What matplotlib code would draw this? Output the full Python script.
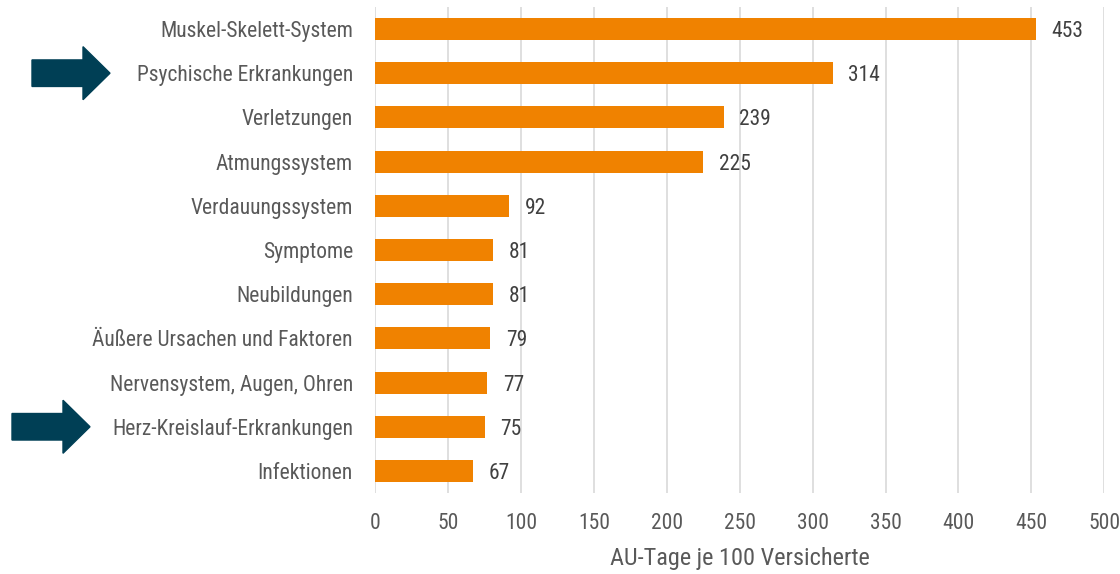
import numpy as np
import matplotlib
matplotlib.use("Agg")
import matplotlib.pyplot as plt
from matplotlib import transforms
from matplotlib.patches import FancyArrow

plt.rcParams['font.family'] = ['Roboto Condensed', 'Liberation Sans', 'DejaVu Sans']

# data, top to bottom
categories = ['Muskel-Skelett-System', 'Psychische Erkrankungen', 'Verletzungen',
              'Atmungssystem', 'Verdauungssystem', 'Symptome', 'Neubildungen',
              'Äußere Ursachen und Faktoren', 'Nervensystem, Augen, Ohren',
              'Herz-Kreislauf-Erkrankungen', 'Infektionen']
values = [453, 314, 239, 225, 92, 81, 81, 79, 77, 75, 67]
highlighted = ['Psychische Erkrankungen', 'Herz-Kreislauf-Erkrankungen']
xticks = [0, 50, 100, 150, 200, 250, 300, 350, 400, 450, 500]

ORANGE = '#F08200'
ARROW = '#003F55'
GREY = '#595959'
FS = 15.5

fig = plt.figure(figsize=(11.2, 5.74), dpi=100)
ax = fig.add_axes([0.335, 0.141, 0.651, 0.847])

y = np.arange(len(categories))
ax.barh(y, values, height=0.5, color=ORANGE, zorder=3)
ax.set_ylim(len(categories) - 0.5, -0.5)
ax.set_xlim(0, 500)
ax.set_yticks(y)
ax.set_yticklabels(categories, fontsize=FS, color=GREY, va='center_baseline')
ax.set_xticks(xticks)
ax.set_xticklabels([str(t) for t in xticks], fontsize=FS, color=GREY)
ax.tick_params(axis='y', length=0, pad=16)
ax.tick_params(axis='x', length=0, pad=14)
ax.set_xlabel('AU-Tage je 100 Versicherte', fontsize=17.5, color=GREY, labelpad=10)
ax.grid(axis='x', color='#D9D9D9', linewidth=1.2, zorder=0)
for s in ax.spines.values():
    s.set_visible(False)

for yi, v in zip(y, values):
    ax.annotate(str(v), (v, yi), xytext=(11, 0), textcoords='offset points',
                va='center_baseline', ha='left', fontsize=FS, color='#404040')

# arrows pointing at highlighted categories (x in figure fraction, y in data)
trans = transforms.blended_transform_factory(fig.transFigure, ax.transData)
arrow_x = {'Psychische Erkrankungen': 32, 'Herz-Kreislauf-Erkrankungen': 12}
for name in highlighted:
    yi = categories.index(name)
    x0 = arrow_x[name] / 1120
    ar = FancyArrow(x0, yi, 78 / 1120, 0, width=0.6, head_width=1.2,
                    head_length=27 / 1120, length_includes_head=True,
                    color=ARROW, transform=trans, clip_on=False)
    fig.patches.append(ar)

fig.savefig('out.png', dpi=100)
